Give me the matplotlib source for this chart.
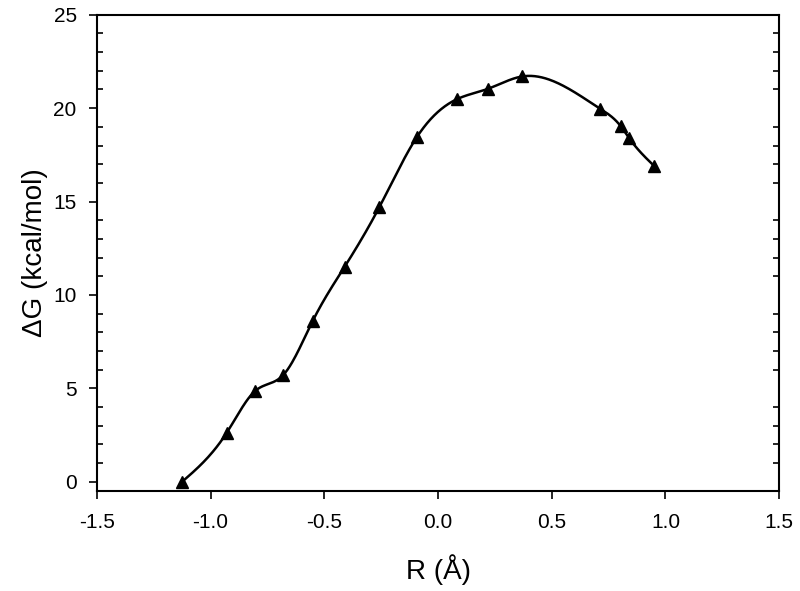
import numpy as np
import matplotlib
matplotlib.use("Agg")
from matplotlib import pyplot as plt
from matplotlib.ticker import MultipleLocator, NullLocator

plt.rcParams['font.family'] = ['Liberation Sans', 'DejaVu Sans']

# reaction coordinate (Angstrom) and free energy (kcal/mol)
r_vals = [-1.125, -0.929, -0.804, -0.680, -0.550, -0.410, -0.258, -0.093,
          0.083, 0.218, 0.371, 0.713, 0.803, 0.840, 0.951]
dg_vals = [0.0, 2.62, 4.86, 5.72, 8.63, 11.52, 14.70, 18.45,
           20.48, 21.03, 21.70, 19.97, 19.04, 18.40, 16.90]


def natural_spline(x, y, n=400):
    # plain natural cubic spline, enough for a smooth line through the points
    x = np.asarray(x, float)
    y = np.asarray(y, float)
    k = len(x)
    h = np.diff(x)
    A = np.zeros((k, k))
    b = np.zeros(k)
    A[0, 0] = A[-1, -1] = 1
    for i in range(1, k - 1):
        A[i, i - 1] = h[i - 1]
        A[i, i] = 2 * (h[i - 1] + h[i])
        A[i, i + 1] = h[i]
        b[i] = 3 * ((y[i + 1] - y[i]) / h[i] - (y[i] - y[i - 1]) / h[i - 1])
    c = np.linalg.solve(A, b)
    xs = np.linspace(x[0], x[-1], n)
    idx = np.clip(np.searchsorted(x, xs) - 1, 0, k - 2)
    dx = xs - x[idx]
    hi = h[idx]
    bi = (y[idx + 1] - y[idx]) / hi - hi * (2 * c[idx] + c[idx + 1]) / 3
    di = (c[idx + 1] - c[idx]) / (3 * hi)
    ys = y[idx] + bi * dx + c[idx] * dx ** 2 + di * dx ** 3
    return xs, ys


fig = plt.figure(figsize=(8, 5.91), dpi=100)
ax = fig.add_axes([0.121, 0.169, 0.853, 0.806])

xs, ys = natural_spline(r_vals, dg_vals)
ax.plot(xs, ys, color='black', lw=1.8, zorder=2)
ax.plot(r_vals, dg_vals, '^', color='black', markersize=9, zorder=3)

ax.set_xlim(-1.5, 1.5)
ax.set_ylim(-0.5, 25)
ax.set_xticks(np.arange(-1.5, 1.51, 0.5))
ax.set_xticklabels([f"{v:.1f}" for v in np.arange(-1.5, 1.51, 0.5)])
ax.xaxis.set_minor_locator(NullLocator())
ax.yaxis.set_major_locator(MultipleLocator(5))
ax.yaxis.set_minor_locator(MultipleLocator(1))

ax.tick_params(which='major', direction='out', length=6, width=1.2,
               labelsize=15, top=False, right=False)
ax.tick_params(axis='x', which='major', pad=10)
ax.tick_params(axis='y', which='major', pad=8.5)
ax.tick_params(which='minor', direction='in', length=4, width=1.2,
               left=True, right=True)
for s in ax.spines.values():
    s.set_linewidth(1.5)

ax.set_xlabel("R (Å)", fontsize=20, labelpad=16)
ax.set_ylabel("ΔG (kcal/mol)", fontsize=20, labelpad=4)

fig.savefig("out.png", dpi=100)
